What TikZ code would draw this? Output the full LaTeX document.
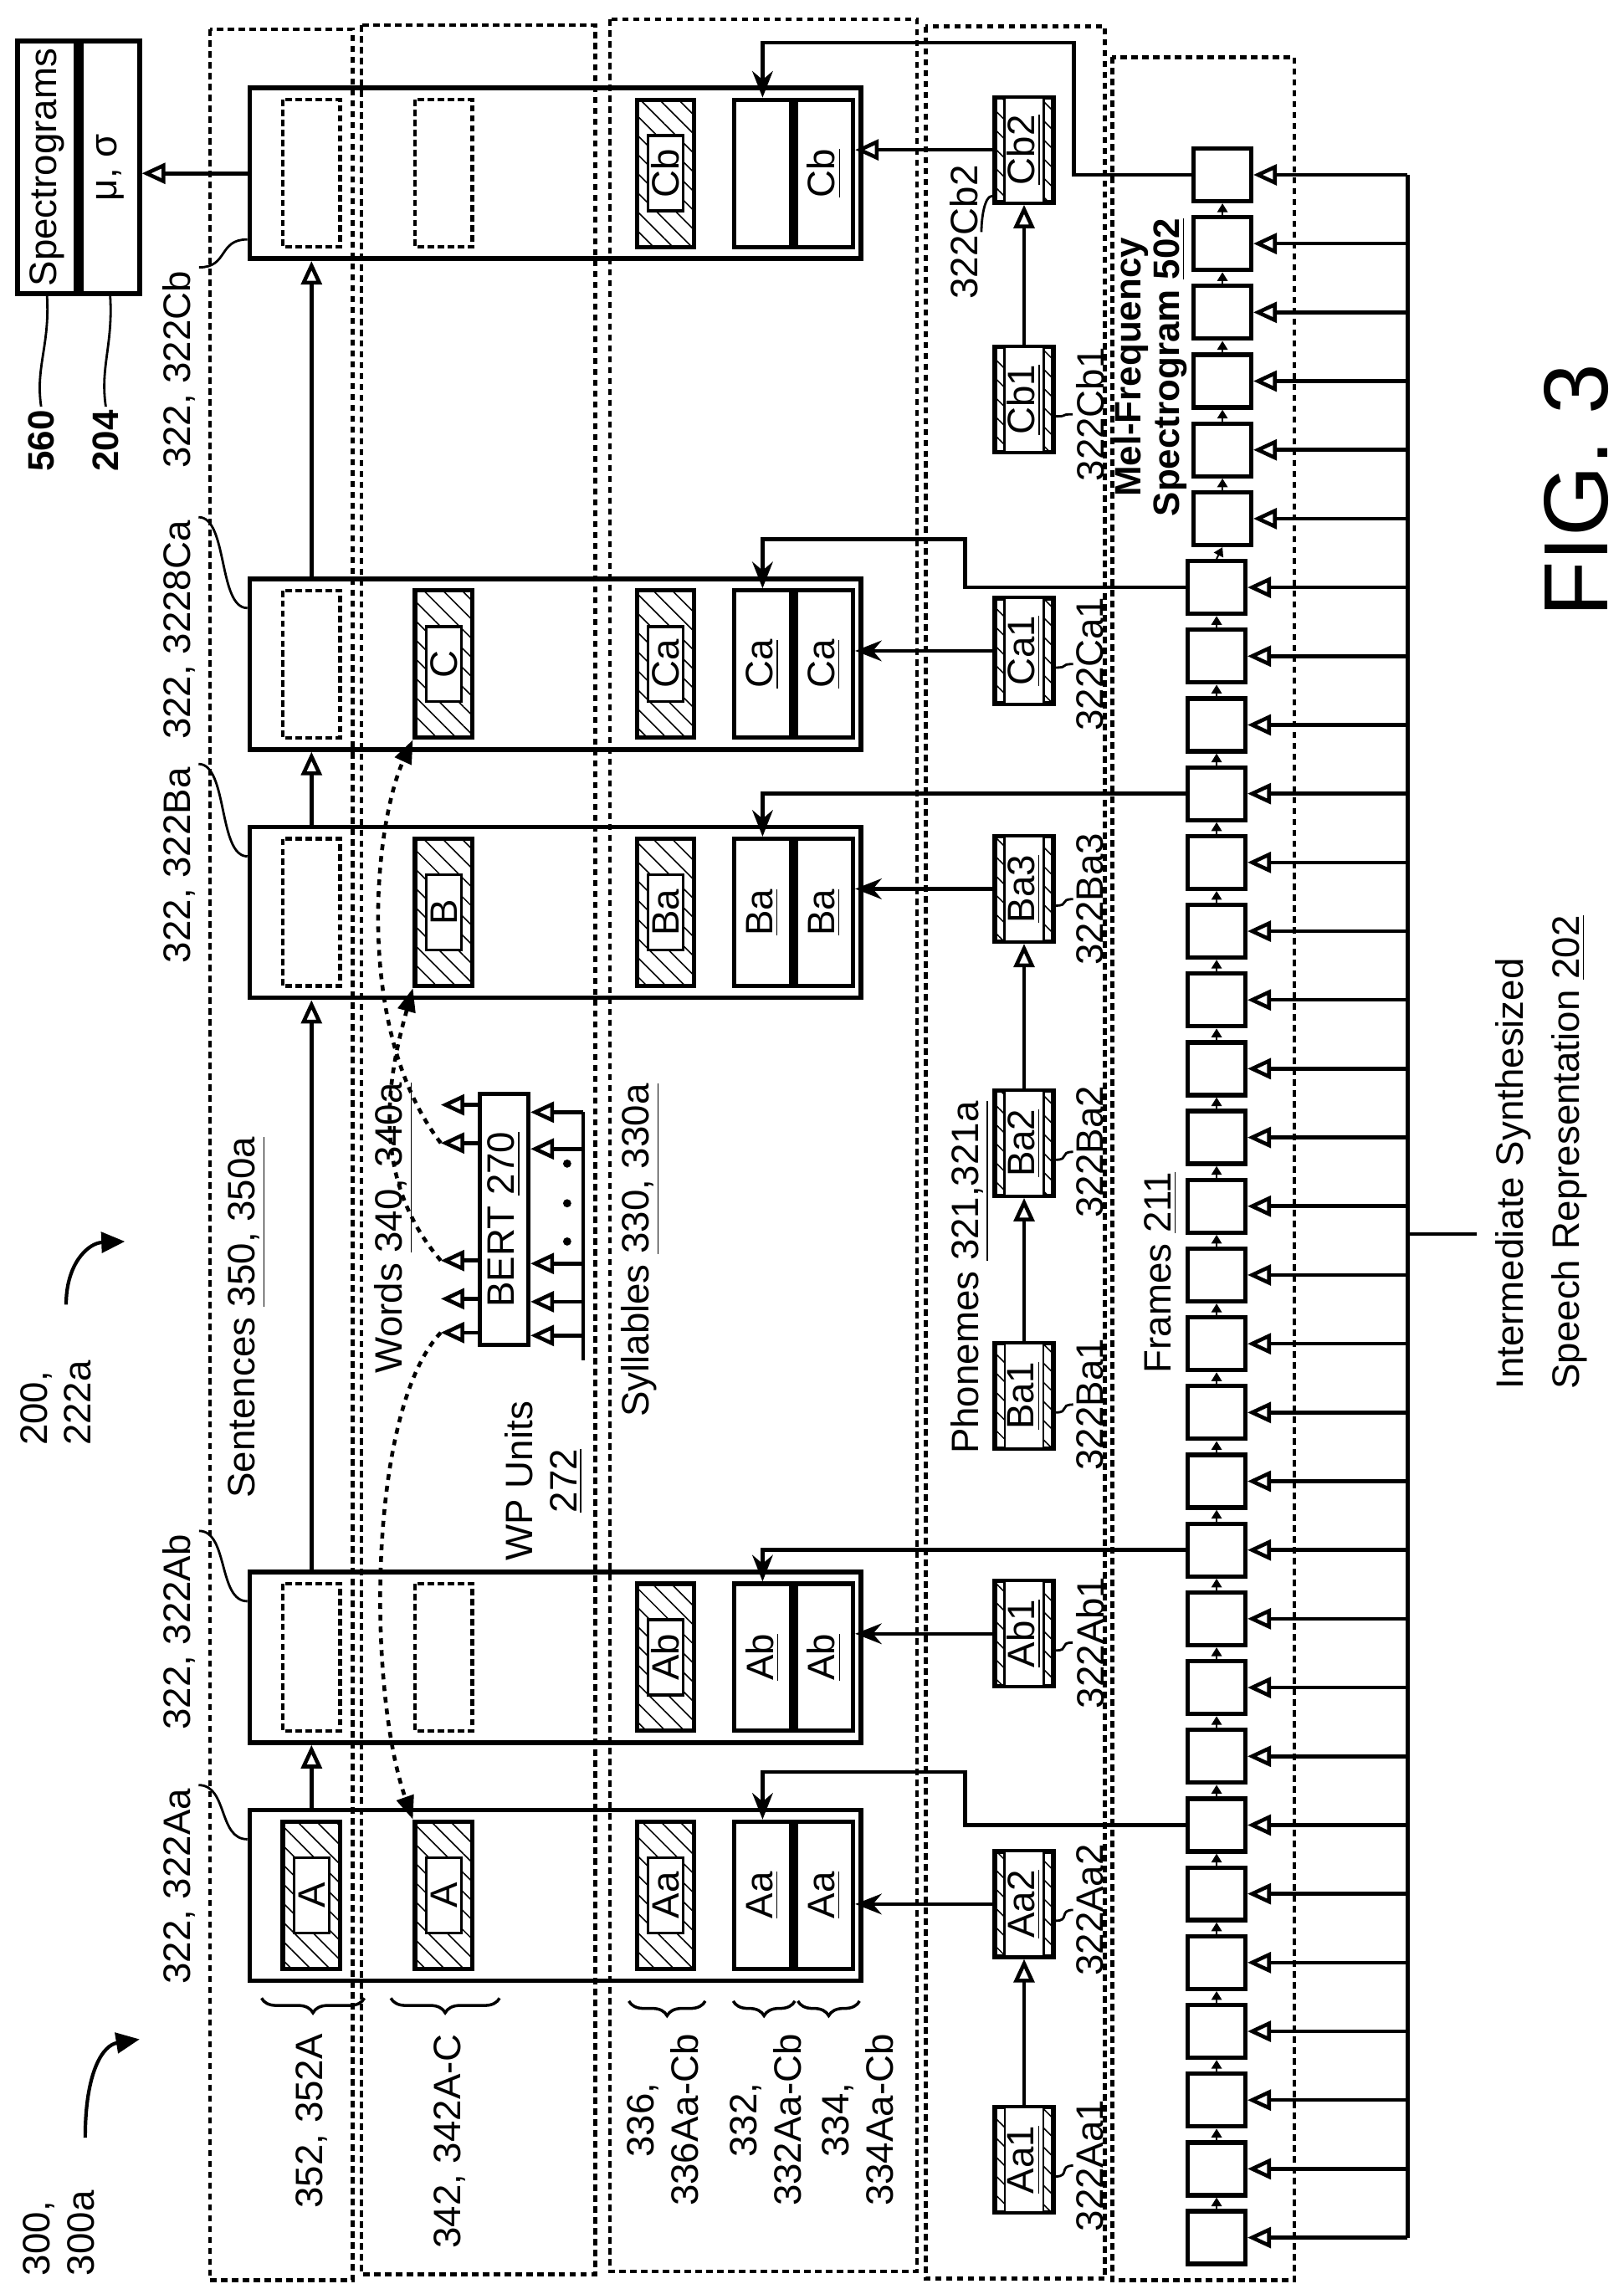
\documentclass[tikz,border=0pt]{standalone}
\usepackage{fontspec}
\setmainfont{Liberation Sans}
\usetikzlibrary{arrows.meta,patterns.meta,decorations.pathreplacing}

\begin{document}
\begin{tikzpicture}[x=0.1757mm,y=-0.1757mm,line join=miter,
    txt/.style={rotate=90,font=\fontsize{13}{15}\selectfont,inner sep=1pt},
    bold/.style={txt,font=\fontsize{12.5}{13}\selectfont\bfseries},
    zone/.style={line width=1.3pt,dash pattern=on 2.2pt off 1.5pt},
    hatch/.style={pattern={Lines[angle=-45,distance=4.6pt,line width=0.45pt]}},
    blk/.style={draw,rotate=90,line width=1.6pt,minimum width=20.4mm,minimum height=73.1mm,inner sep=0pt},
    emp/.style={draw,rotate=90,line width=1.2pt,dash pattern=on 2.2pt off 1.2pt,minimum width=17.6mm,minimum height=6.85mm,inner sep=0pt},
    hat/.style={draw,rotate=90,line width=1.5pt,hatch,minimum width=17.6mm,minimum height=6.85mm,inner sep=0pt},
    tag/.style={txt,draw,fill=white,line width=1pt,minimum width=9mm,minimum height=4.2mm},
    syl/.style={txt,draw,line width=1.5pt,minimum width=17.6mm,minimum height=6.85mm,inner sep=0pt},
    pho/.style={draw,rotate=90,line width=1.5pt,hatch,minimum width=12.6mm,minimum height=7mm,inner sep=0pt},
    ptag/.style={txt,draw,fill=white,line width=0.8pt,minimum width=12.6mm,minimum height=4.2mm},
    frm/.style={draw,line width=1.5pt,minimum width=6.85mm,minimum height=6.3mm,inner sep=0pt},
    ln/.style={line width=1.3pt},
    oa/.style={ln,-{Triangle[open,length=8pt,width=7pt]}},
    fa/.style={ln,-{Stealth[length=9pt,width=7pt]}},
    sa/.style={line width=0.6pt,-{Triangle[length=3pt,width=3.5pt]}},
    leader/.style={line width=0.8pt},
    dcurve/.style={line width=1.3pt,dash pattern=on 2pt off 2pt,-{Triangle[length=8pt,width=6pt]}},
    brc/.style={decorate,decoration={brace,amplitude=5pt},line width=1pt}]

  \useasboundingbox (0,0) rectangle (1105,1558);

  % dashed columns
  \draw[zone] (143,20) rectangle (240,1552);
  \draw[zone] (246,17) rectangle (405,1548);
  \draw[zone] (415,13) rectangle (624,1546);
  \draw[zone] (630,18) rectangle (752,1551);
  \draw[zone] (757,39) rectangle (881,1552);

  % outputs
  \node[txt,draw,line width=1.6pt,minimum width=30.2mm,minimum height=7mm] (spec) at (32,114) {Spectrograms};
  \node[txt,draw,line width=1.6pt,minimum width=30.2mm,minimum height=7mm] (mu) at (75,114) {μ, σ};
  \node[bold] (l560) at (28,300) {560};
  \node[bold] (l204) at (72,300) {204};
  \draw[leader] (spec.west) .. controls (34,235) and (24,250) .. (l560.east);
  \draw[leader] (mu.west) .. controls (77,235) and (68,250) .. (l204.east);

  % blocks
  \node[blk] (Cb) at (378,118) {};
  \node[emp] (CbS) at (212,118) {};
  \node[emp] (CbW) at (302,118) {};
  \node[hat] (CbY) at (453,118) {};
  \node[tag] (CbYt) at (CbY) {Cb};
  \node[syl] (CbB) at (519,118) {};
  \node[syl] (CbC) at (561,118) {\underline{Cb}};

  \node[blk] (Ca) at (378,452) {};
  \node[emp] (CaS) at (212,452) {};
  \node[hat] (CaW) at (302,452) {};
  \node[tag] (CaWt) at (CaW) {C};
  \node[hat] (CaY) at (453,452) {};
  \node[tag] (CaYt) at (CaY) {Ca};
  \node[syl] (CaB) at (519,452) {\underline{Ca}};
  \node[syl] (CaC) at (561,452) {\underline{Ca}};

  \node[blk] (Ba) at (378,621) {};
  \node[emp] (BaS) at (212,621) {};
  \node[hat] (BaW) at (302,621) {};
  \node[tag] (BaWt) at (BaW) {B};
  \node[hat] (BaY) at (453,621) {};
  \node[tag] (BaYt) at (BaY) {Ba};
  \node[syl] (BaB) at (519,621) {\underline{Ba}};
  \node[syl] (BaC) at (561,621) {\underline{Ba}};

  \node[blk] (Ab) at (378,1128) {};
  \node[emp] (AbS) at (212,1128) {};
  \node[emp] (AbW) at (302,1128) {};
  \node[hat] (AbY) at (453,1128) {};
  \node[tag] (AbYt) at (AbY) {Ab};
  \node[syl] (AbB) at (519,1128) {\underline{Ab}};
  \node[syl] (AbC) at (561,1128) {\underline{Ab}};

  \node[blk] (Aa) at (378,1290) {};
  \node[hat] (AaS) at (212,1290) {};
  \node[tag] (AaSt) at (AaS) {A};
  \node[hat] (AaW) at (302,1290) {};
  \node[tag] (AaWt) at (AaW) {A};
  \node[hat] (AaY) at (453,1290) {};
  \node[tag] (AaYt) at (AaY) {Aa};
  \node[syl] (AaB) at (519,1290) {\underline{Aa}};
  \node[syl] (AaC) at (561,1290) {\underline{Aa}};

  % block labels
  \node[txt,anchor=east] (lCb) at (122,182) {322, 322Cb};
  \node[txt,anchor=east] (lCa) at (122,352) {322, 3228Ca};
  \node[txt,anchor=east] (lBa) at (122,520) {322, 322Ba};
  \node[txt,anchor=east] (lAb) at (122,1042) {322, 322Ab};
  \node[txt,anchor=east] (lAa) at (122,1215) {322, 322Aa};
  \draw[leader] (lCb.south east) .. controls +(20,0) and +(-20,0) .. ([yshift=-7.9mm]Cb.north);
  \foreach \b in {Ca,Ba,Ab,Aa}
    \draw[leader] (l\b.south east) .. controls +(20,0) and +(-20,0) .. ([yshift=6.7mm]\b.north);

  \draw[oa] (Aa.east -| AaS) -- (Ab.west -| AaS);
  \draw[oa] (Ab.east -| AbS) -- (Ba.west -| AbS);
  \draw[oa] (Ba.east -| BaS) -- (Ca.west -| BaS);
  \draw[oa] (Ca.east -| CaS) -- (Cb.west -| CaS);
  \draw[oa] (Cb.north) -- (Cb.north -| mu.south);

  % braces
  \draw[brc] (248,1360) -- (178,1360);
  \draw[brc] (340,1360) -- (266,1360);
  \draw[brc] (480,1362) -- (428,1362);
  \draw[brc] (541,1362) -- (499,1362);
  \draw[brc] (585,1362) -- (543,1362);
  \node[txt,anchor=east] (l352) at (212,1382) {352, 352A};
  \node[txt,anchor=east] (l342) at (306,1382) {342, 342A-C};
  \node[txt,anchor=east,align=center] (l336) at (451,1382) {336,\\336Aa-Cb};
  \node[txt,anchor=east,align=center] (l332) at (521,1382) {332,\\332Aa-Cb};
  \node[txt,anchor=east,align=center] (l334) at (584,1382) {334,\\334Aa-Cb};

  % column labels
  \node[txt,anchor=west] (lsen) at (168,1022) {Sentences \underline{350, 350a}};
  \node[txt,anchor=west] (lwrd) at (268,937) {Words \underline{340, 340a}};
  \node[txt,anchor=west] (lsyl) at (436,967) {Syllables \underline{330, 330a}};
  \node[txt,anchor=west] (lpho) at (660,992) {Phonemes \underline{321,321a}};
  \node[txt,anchor=west] (lfrm) at (790,937) {Frames \underline{211}};
  \node[txt,align=center] (lwp) at (370,1008) {WP Units\\\underline{272}};

  % BERT
  \node[txt,draw,line width=1.5pt,minimum width=30mm,minimum height=5.8mm] (bert) at (343,830) {BERT \underline{270}};
  \foreach \i/\y in {1/752,2/778,3/858,4/884,5/907}{
    \coordinate (o\i) at (300,\y);
    \draw[oa] (bert.north |- o\i) -- (o\i);
  }
  \foreach \i/\y in {1/757,2/782,3/860,4/886,5/909}{
    \coordinate (i\i) at (397,\y);
    \draw[oa] (i\i) -- (bert.south |- i\i);
  }
  \coordinate (wb) at (397,926);
  \draw[ln] (i1) -- (wb);
  \foreach \y in {792,819,845} \fill (386,\y) circle (1.4pt);
  \draw[dcurve] (o2) .. controls (240,700) and (255,560) .. (CaW.north west);
  \draw[dcurve] (o3) .. controls (250,800) and (265,730) .. (BaW.north west);
  \draw[dcurve] (o5) .. controls (250,960) and (250,1150) .. (AaW.north east);

  % phonemes
  \foreach \n/\y in {Aa1/1470,Aa2/1296,Ab1/1112,Ba1/950,Ba2/778,Ba3/605,Ca1/443,Cb1/272,Cb2/102}{
    \node[pho] (\n) at (697,\y) {};
    \node[ptag] (\n-t) at (\n) {\underline{\n}};
  }
  \foreach \n/\y in {Aa1/1474,Aa2/1300,Ab1/1118,Ba1/956,Ba2/784,Ba3/612,Ca1/452,Cb1/282}{
    \node[txt] (l\n) at (742,\y) {322\n};
    \draw[leader] ([yshift=-2mm]\n.south) .. controls +(10,0) and +(-10,0) .. (l\n.north);
  }
  \node[txt] (lCb2) at (656,158) {322Cb2};
  \draw[leader] ([yshift=-5.5mm]Cb2.north) .. controls +(-6,0) and +(0,-8) .. (lCb2.south);
  \draw[oa] (Aa1.east) -- (Aa2.west);
  \draw[oa] (Ba1.east) -- (Ba2.west);
  \draw[oa] (Ba2.east) -- (Ba3.west);
  \draw[oa] (Cb1.east) -- (Cb2.west);
  \draw[fa] (Aa2.north) -- (Aa2.north -| AaC.south);
  \draw[fa] (Ab1.north) -- (Ab1.north -| AbC.south);
  \draw[fa] (Ba3.north) -- (Ba3.north -| BaC.south);
  \draw[fa] (Ca1.north) -- (Ca1.north -| CaC.south);
  \draw[oa] (Cb2.north) -- (Cb2.north -| CbC.south);

  % frames
  \coordinate (bt) at (958,119);
  \coordinate (bb) at (958,1523);
  \draw[ln] (bt) -- (bb);
  \foreach \k in {0,...,30}{
    \pgfmathsetmacro\fy{119+46.8*\k}
    \ifnum\k<6 \def\fx{832}\else\def\fx{828}\fi
    \node[frm] (f\k) at (\fx,\fy) {};
    \draw[oa] (bt |- f\k) -- (f\k.east);
  }
  \foreach \k in {1,...,30}{
    \pgfmathtruncatemacro\j{\k-1}
    \draw[sa] (f\k.north) -- (f\j.south);
  }
  \node[bold,align=center] (mel) at (783,250) {Mel-Frequency\\Spectrogram \underline{502}};

  \coordinate (kCb) at (731,29);
  \coordinate (kCa) at (657,367);
  \coordinate (kAa) at (657,1206);
  \draw[fa] (f0.west) -| (kCb) -| (CbB.east);
  \draw[fa] (f6.west) -| (kCa) -| (CaB.east);
  \draw[fa] (f9.west) -| (BaB.east);
  \draw[fa] (f20.west) -| (AbB.east);
  \draw[fa] (f24.west) -| (kAa) -| (AaB.east);

  % input representation
  \coordinate (isp) at (1005,840);
  \draw[ln] (bt |- isp) -- (isp);
  \node[txt,align=left,font=\fontsize{13}{19}\selectfont,anchor=west] (isr) at (1049,948)
    {Intermediate Synthesized\\Speech Representation \underline{202}};

  % figure refs
  \node[txt,align=left] (l300) at (40,1520) {300,\\300a};
  \coordinate (a300) at (58,1455);
  \coordinate (b300) at (95,1388);
  \draw[line width=1.2pt,-{Triangle[length=8pt,width=7pt]}] (a300) .. controls (58,1410) and (70,1392) .. (b300);
  \node[txt,align=left] (l200) at (38,955) {200,\\222a};
  \coordinate (a200) at (45,888);
  \coordinate (b200) at (85,845);
  \draw[line width=1.2pt,-{Triangle[length=8pt,width=7pt]}] (a200) .. controls (45,860) and (60,846) .. (b200);
  \node[txt,font=\fontsize{31}{34}\selectfont] (fig) at (1073,334) {FIG. 3};
\end{tikzpicture}
\end{document}
